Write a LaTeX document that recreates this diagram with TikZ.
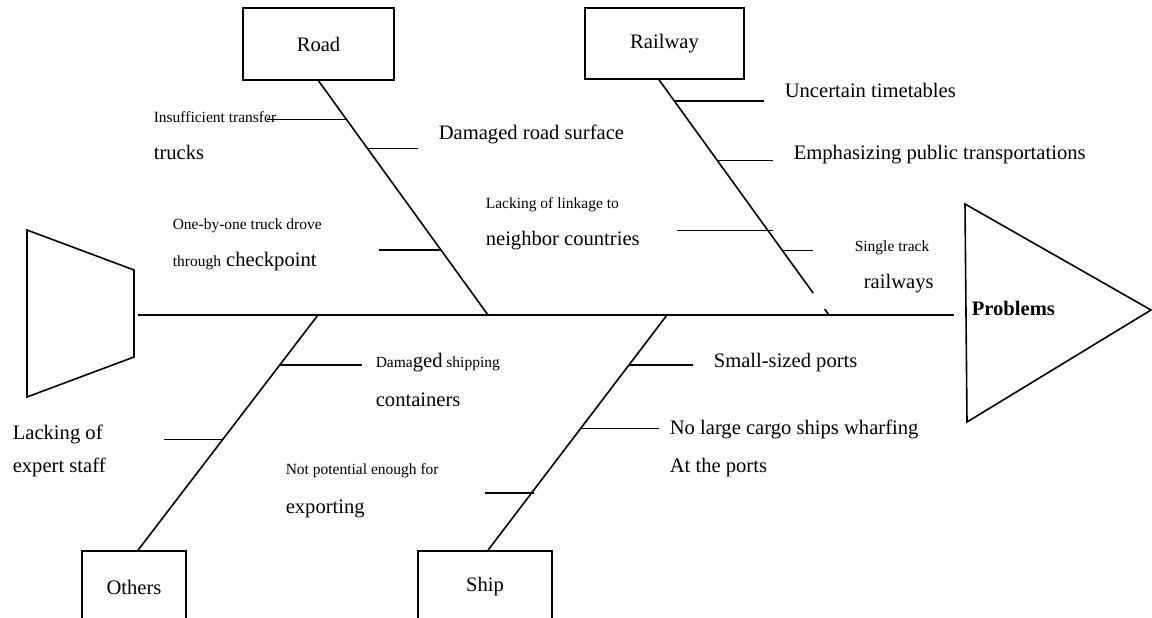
\documentclass[tikz,border=0pt]{standalone}
\usepackage{fontspec}
\setmainfont{Liberation Serif}
\usepackage{tikz}

\newcommand\smalltext{\fontsize{15.5}{18}\selectfont}
\newcommand\bigtext{\fontsize{20.6}{24}\selectfont}

\begin{document}
\begin{tikzpicture}[x=1pt,y=-1pt,line width=1.6pt]
	\tikzstyle{cause}=[draw=black,rectangle,inner sep=0pt,font=\bigtext]
	\tikzstyle{txt}=[anchor=mid west,inner sep=0pt,font=\bigtext]
	\useasboundingbox (0,0) rectangle (1152,618);
	\node[cause,minimum width=151pt,minimum height=72pt](road) at (318.5,44) {Road};
	\node[cause,minimum width=159pt,minimum height=71pt](rail) at (664.5,43.5) {Railway};
	\node[cause,minimum width=104pt,minimum height=72pt](others) at (134,587) {Others};
	\node[cause,minimum width=134pt,minimum height=72pt](ship) at (485,587) {Ship};
	\draw (27,230) -- (134,270) -- (134,357) -- (27,397) -- cycle;
	\draw (965,204) -- (1151,310) -- (967,422) -- cycle;
	\coordinate (tail) at (138,315);
	\coordinate (head) at (954,315);
	\coordinate (s1) at (488,315);
	\coordinate (s2) at (829,315);
	\coordinate (s3) at (318,315);
	\coordinate (s4) at (667,315);
	\draw (tail) -- (head);
	\draw (road.south) -- (s1) coordinate[pos=0.166](a1) coordinate[pos=0.289](a2) coordinate[pos=0.723](a3);
	\path ([xshift=-5.5pt]rail.south) -- (s2) coordinate[pos=0.089](b1) coordinate[pos=0.343](b2)
		coordinate[pos=0.64](b3) coordinate[pos=0.725](b4) coordinate[pos=0.907](g1) coordinate[pos=0.975](g2);
	\draw ([xshift=-5.5pt]rail.south) -- (g1);
	\draw (g2) -- (s2);
	\draw (s3) -- ([xshift=4pt]others.north) coordinate[pos=0.212](c1) coordinate[pos=0.53](c2);
	\draw (s4) -- ([xshift=3pt]ship.north) coordinate[pos=0.212](d1) coordinate[pos=0.483](d2) coordinate[pos=0.758](d3);
	\draw (a1) -- ++(-80,0);
	\draw (a2) -- ++(51,0);
	\draw (a3) -- ++(-62,0);
	\draw (b1) -- ++(90,0);
	\draw (b2) -- ++(56,0);
	\draw ([xshift=5pt]b3) -- ++(-96,0);
	\draw (b4) -- ++(31,0);
	\draw (c1) -- ++(82,0);
	\draw (c2) -- ++(-59,0);
	\draw (d1) -- ++(64,0);
	\draw (d2) -- ++(78,0);
	\draw ([xshift=3pt]d3) -- ++(-49,0);
	\node[txt,font=\smalltext](n1) at (153,120) {Insufficient transfer};
	\node[txt](n2) at (153,157) {trucks};
	\node[txt](n3) at (438,137) {Damaged road surface};
	\node[txt,font=\smalltext](n4) at (172,227) {One-by-one truck drove};
	\node[txt](n5) at (172,264) {{\smalltext through} checkpoint};
	\node[txt,font=\smalltext](n6) at (485,206) {Lacking of linkage to};
	\node[txt](n7) at (485,243) {neighbor countries};
	\node[txt](n8) at (784,95) {Uncertain timetables};
	\node[txt](n9) at (793,157) {Emphasizing public transportations};
	\node[txt,font=\smalltext](n10) at (854,249) {Single track};
	\node[txt](n11) at (863,286) {railways};
	\node[txt,font=\bigtext\bfseries](n12) at (971,313) {Problems};
	\node[txt,font=\smalltext](n13) at (375,365) {Dama{\bigtext ged} shipping};
	\node[txt](n14) at (375,404) {containers};
	\node[txt](n15) at (12,437) {Lacking of};
	\node[txt](n16) at (12,470) {expert staff};
	\node[txt,font=\smalltext](n17) at (285,472) {Not potential enough for};
	\node[txt](n18) at (285,511) {exporting};
	\node[txt](n19) at (713,365) {Small-sized ports};
	\node[txt](n20) at (669,432) {No large cargo ships wharfing};
	\node[txt](n21) at (669,470) {At the ports};
\end{tikzpicture}
\end{document}
